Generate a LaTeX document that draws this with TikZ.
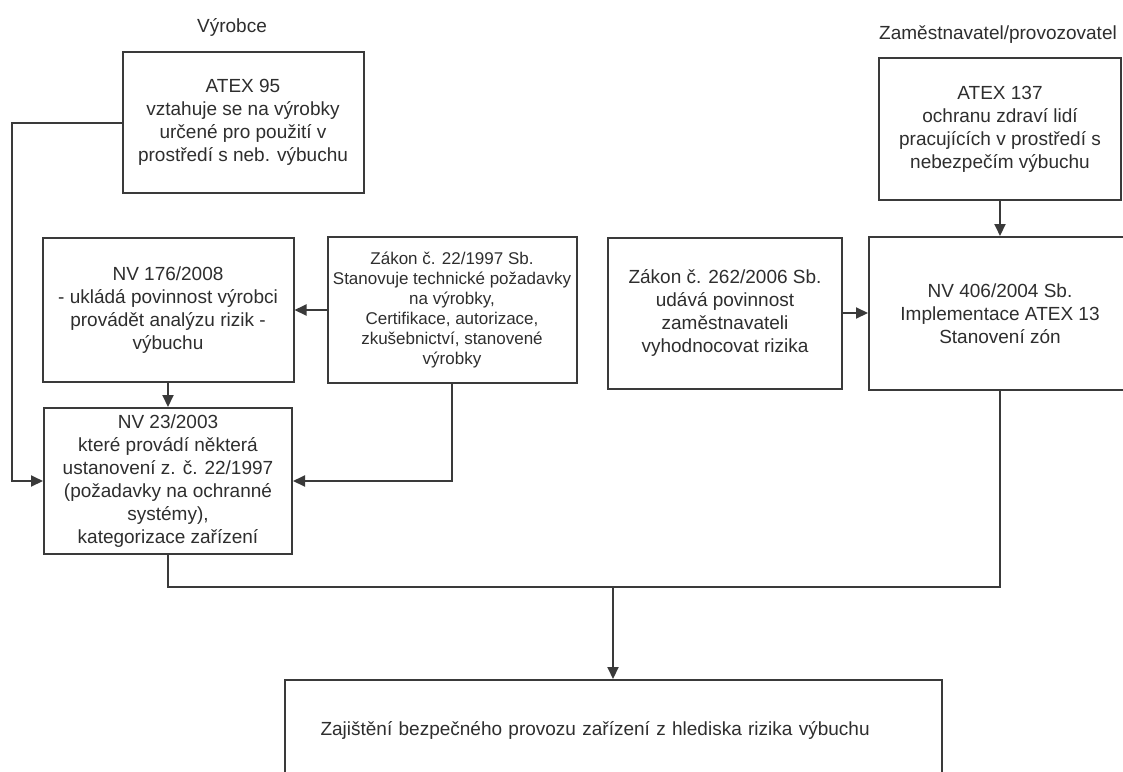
\documentclass[tikz,border=0pt]{standalone}
\usepackage{fontspec}
\setmainfont{Liberation Sans}
\usetikzlibrary{arrows.meta}
\definecolor{linec}{HTML}{3A3A3A}
\definecolor{textc}{HTML}{2E2E2E}
\tikzset{
  box/.style={draw=linec, line width=2pt, fill=white, inner sep=0pt, align=center,
    text=textc, font=\fontsize{19}{23}\selectfont},
  smallbox/.style={box, font=\fontsize{17}{20}\selectfont},
  headtext/.style={text=textc, font=\fontsize{19}{23}\selectfont, inner sep=0pt},
  conn/.style={draw=linec, line width=2pt},
  arr/.style={conn, ->}
}
\begin{document}
\begin{tikzpicture}[x=1pt, y=-1pt, >={Triangle[length=12pt, width=11pt]}]
\clip (0,0) rectangle (1123,771);
\fill[white] (0,0) rectangle (1123,771);

% group headings
\node[headtext] (lblv) at (232,27) {Výrobce};
\node[headtext] (lblz) at (998,35) {Zaměstnavatel/provozovatel};

% manufacturer side
\node[box, minimum width=241pt, minimum height=141pt] (atex95) at (243,122.5)
  {ATEX 95\\vztahuje se na výrobky\\určené pro použití v\\prostředí s neb. výbuchu};
\node[box, minimum width=251pt, minimum height=144pt] (nv176) at (168,310)
  {NV 176/2008\\- ukládá povinnost výrobci\\provádět analýzu rizik -\\výbuchu};
\node[smallbox, minimum width=249pt, minimum height=146pt] (z22) at (452,310)
  {Zákon č. 22/1997 Sb.\\Stanovuje technické požadavky\\na výrobky,\\Certifikace, autorizace,\\zkušebnictví, stanovené\\výrobky};
\node[box, minimum width=248pt, minimum height=146pt] (nv23) at (168,481)
  {NV 23/2003\\které provádí některá\\ustanovení z. č. 22/1997\\(požadavky na ochranné\\systémy),\\kategorizace zařízení};

% employer / operator side
\node[box, minimum width=242pt, minimum height=142pt] (atex137) at (1000,129)
  {ATEX 137\\ochranu zdraví lidí\\pracujících v prostředí s\\nebezpečím výbuchu};
\node[box, minimum width=234pt, minimum height=151pt] (z262) at (725,313)
  {Zákon č. 262/2006 Sb.\\udává povinnost\\zaměstnavateli\\vyhodnocovat rizika};
\node[box, minimum width=262pt, minimum height=153pt] (nv406) at (1000,313.5)
  {NV 406/2004 Sb.\\Implementace ATEX 13\\Stanovení zón};

% common goal
\node[box, align=left, text width=585pt, inner xsep=36pt, minimum height=100pt] (goal) at (613,730)
  {Zajištění bezpečného provozu zařízení z hlediska rizika výbuchu};

% connectors
\coordinate (lft) at (12,0);
\coordinate (junc) at (613,587);
\draw[arr] (atex95.west) -- (atex95.west -| lft) |- (nv23.west);
\draw[arr] (z22.west) -- (nv176.east);
\draw[arr] (nv176.south) -- (nv176.south |- nv23.north);
\draw[arr] (z22.south) |- (nv23.east);
\draw[arr] (atex137.south) -- (nv406.north);
\draw[arr] (z262.east) -- (z262.east -| nv406.west);
\draw[conn] (nv23.south) |- (junc);
\draw[conn] (nv406.south) |- (junc);
\draw[arr] (junc) -- (goal.north);
\end{tikzpicture}
\end{document}
